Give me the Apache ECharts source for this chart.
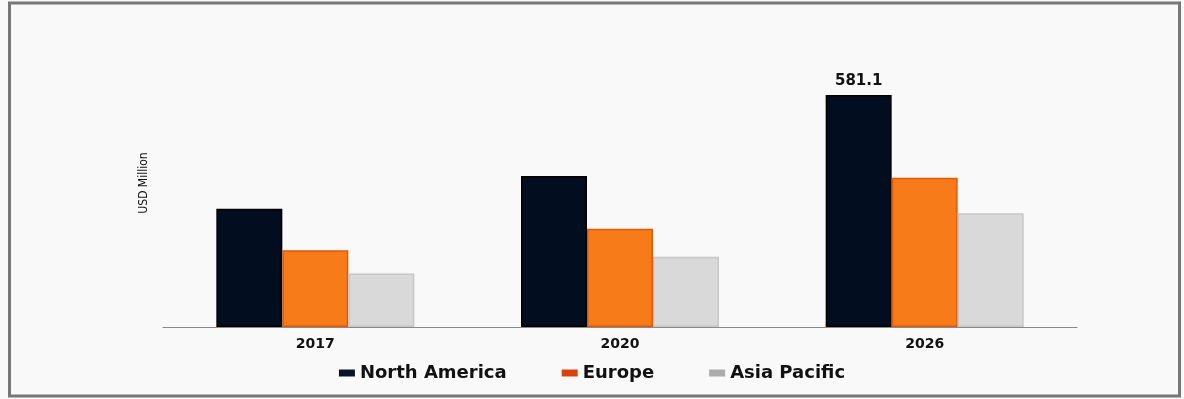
<!DOCTYPE html>
<html>
<head>
<meta charset="utf-8">
<script src="https://cdn.jsdelivr.net/npm/echarts@6/dist/echarts.min.js"></script>
<style>
html,body{margin:0;padding:0;background:#f9f9f9;}
#c{width:1184px;height:399px;}
</style>
</head>
<body>
<div id="c"></div>
<script>
const categories = ['2017', '2020', '2026'];
const seriesNames = ['North America', 'Europe', 'Asia Pacific'];
const northAmerica = [296, 378, 581.1];
const europe = [192, 246, 374];
const asiaPacific = [134, 176, 285];
const labelledValue = '581.1';
const yAxisTitle = 'USD Million';

const chart = echarts.init(document.getElementById('c'), null, {renderer: 'canvas'});

function naData() {
  return northAmerica.map(function (v, i) {
    if (i === 2) {
      return {
        value: v,
        label: {
          show: true, position: 'top', distance: 6,
          formatter: labelledValue,
          fontFamily: 'DejaVu Sans', fontWeight: 'bold', fontSize: 15, color: '#111'
        }
      };
    }
    return v;
  });
}

const option = {
  backgroundColor: '#f9f9f9',
  animation: false,
  grid: {left: 163, right: 107, top: 47.5, bottom: 72},
  xAxis: {
    type: 'category',
    data: categories,
    axisLine: {show: true, lineStyle: {color: '#8a8a8a', width: 1}},
    axisTick: {show: false},
    axisLabel: {
      margin: 10,
      fontFamily: 'DejaVu Sans', fontWeight: 'bold', fontSize: 14, color: '#111'
    }
  },
  yAxis: {
    type: 'value', min: 0, max: 700, show: false,
    splitLine: {show: false}
  },
  legend: {
    bottom: 12,
    left: 'center',
    itemWidth: 16, itemHeight: 7, itemGap: 55,
    icon: 'rect',
    textStyle: {fontFamily: 'DejaVu Sans', fontWeight: 'bold', fontSize: 18, color: '#111'},
    data: [
      {name: seriesNames[0], itemStyle: {color: '#0a1428', borderWidth: 0}},
      {name: seriesNames[1], itemStyle: {color: '#d8400c', borderWidth: 0}},
      {name: seriesNames[2], itemStyle: {color: '#ababab', borderWidth: 0}}
    ]
  },
  series: [
    {
      name: seriesNames[0], type: 'bar', barWidth: 66, barGap: '0%',
      itemStyle: {color: '#020d1f', borderColor: '#000000', borderWidth: 1.5},
      data: naData()
    },
    {
      name: seriesNames[1], type: 'bar', barWidth: 66,
      itemStyle: {color: '#f77b18', borderColor: '#e25708', borderWidth: 1.5},
      data: europe
    },
    {
      name: seriesNames[2], type: 'bar', barWidth: 66,
      itemStyle: {color: '#d9d9d9', borderColor: '#c6c6c6', borderWidth: 1.5},
      data: asiaPacific
    }
  ],
  graphic: [
    {
      type: 'rect', silent: true, z: -1,
      shape: {x: 9.5, y: 3, width: 1170, height: 393},
      style: {fill: 'none', stroke: '#777777', lineWidth: 3}
    },
    {
      type: 'text', x: 144, y: 183, rotation: Math.PI / 2,
      style: {
        text: yAxisTitle, align: 'center', verticalAlign: 'middle',
        fontFamily: '"DejaVu Sans Condensed", "Liberation Sans Narrow", sans-serif',
        fontSize: 12, fill: '#111'
      }
    }
  ]
};
chart.setOption(option);
</script>
</body>
</html>
